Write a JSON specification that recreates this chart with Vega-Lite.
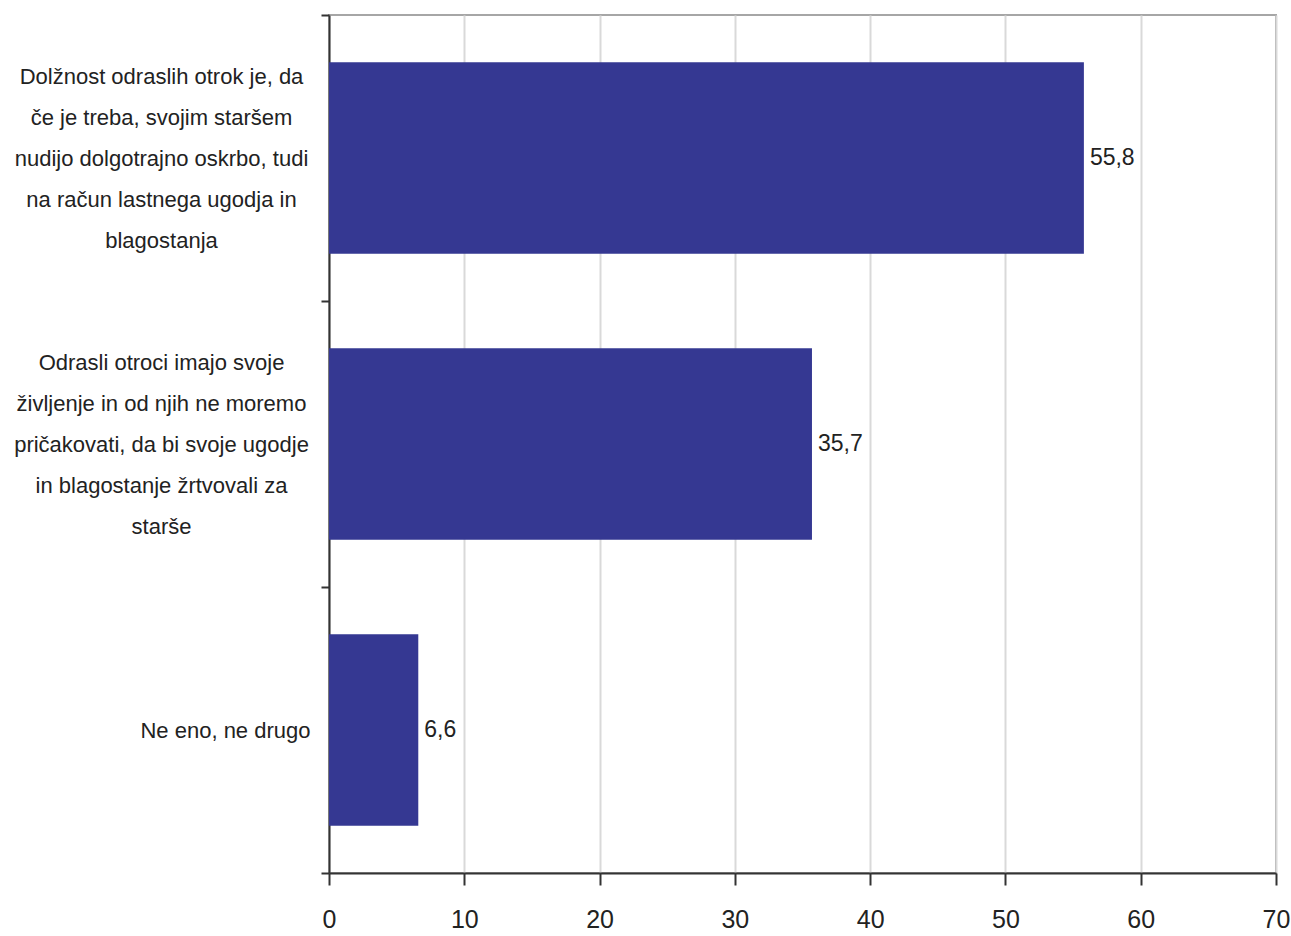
{
  "$schema": "https://vega.github.io/schema/vega-lite/v6.json",
  "width": 947,
  "height": 858,
  "autosize": {"type": "none"},
  "padding": {"left": 329, "top": 15, "right": 15, "bottom": 63},
  "background": "white",
  "config": {
    "locale": {"number": {"decimal": ",", "thousands": ".", "grouping": [3], "currency": ["", " €"]}},
    "view": {"stroke": "#a6a6a6", "strokeWidth": 2},
    "font": "Liberation Sans"
  },
  "data": {
    "values": [
      {"trditev": "Dolžnost odraslih otrok je, da\nče je treba, svojim staršem\nnudijo dolgotrajno oskrbo, tudi\nna račun lastnega ugodja in\nblagostanja", "odstotek": 55.8},
      {"trditev": "Odrasli otroci imajo svoje\nživljenje in od njih ne moremo\npričakovati, da bi svoje ugodje\nin blagostanje žrtvovali za\nstarše", "odstotek": 35.7},
      {"trditev": "Ne eno, ne drugo", "odstotek": 6.6}
    ]
  },
  "encoding": {
    "y": {
      "field": "trditev",
      "type": "nominal",
      "sort": null,
      "scale": {"paddingInner": 0, "paddingOuter": 0},
      "axis": {
        "title": null,
        "tickBand": "extent",
        "tickSize": 8,
        "tickWidth": 2,
        "tickColor": "#333333",
        "domainColor": "#333333",
        "domainWidth": 2,
        "labelExpr": "split(datum.label, '\\n')",
        "labelFont": "Liberation Sans",
        "labelFontSize": 22,
        "labelLineHeight": 41,
        "labelColor": "#222222",
        "labelBaseline": "middle",
        "labelLimit": 400,
        "labelAlign": {"condition": {"test": "datum.value === 'Ne eno, ne drugo'", "value": "right"}, "value": "center"},
        "labelPadding": {"condition": {"test": "datum.value === 'Ne eno, ne drugo'", "value": 11}, "value": 160},
        "labelOffset": {"condition": {"test": "datum.value === 'Ne eno, ne drugo'", "value": 0}, "value": -82}
      }
    },
    "x": {
      "field": "odstotek",
      "type": "quantitative",
      "scale": {"domain": [0, 70], "nice": false},
      "axis": {
        "title": null,
        "values": [0, 10, 20, 30, 40, 50, 60, 70],
        "tickSize": 12,
        "tickWidth": 2,
        "tickColor": "#333333",
        "domainColor": "#333333",
        "domainWidth": 2,
        "grid": true,
        "gridColor": "#d9d9d9",
        "gridWidth": 2,
        "labelFont": "Liberation Sans",
        "labelFontSize": 25,
        "labelColor": "#222222",
        "labelPadding": 22,
        "labelFlush": false
      }
    }
  },
  "layer": [
    {"mark": {"type": "bar", "color": "#353892", "height": {"band": 0.67}}},
    {
      "mark": {"type": "text", "align": "left", "baseline": "middle", "dx": 6, "fontSize": 23, "font": "Liberation Sans", "color": "#222222"},
      "encoding": {"text": {"field": "odstotek", "type": "quantitative", "format": ".1f"}}
    }
  ]
}
